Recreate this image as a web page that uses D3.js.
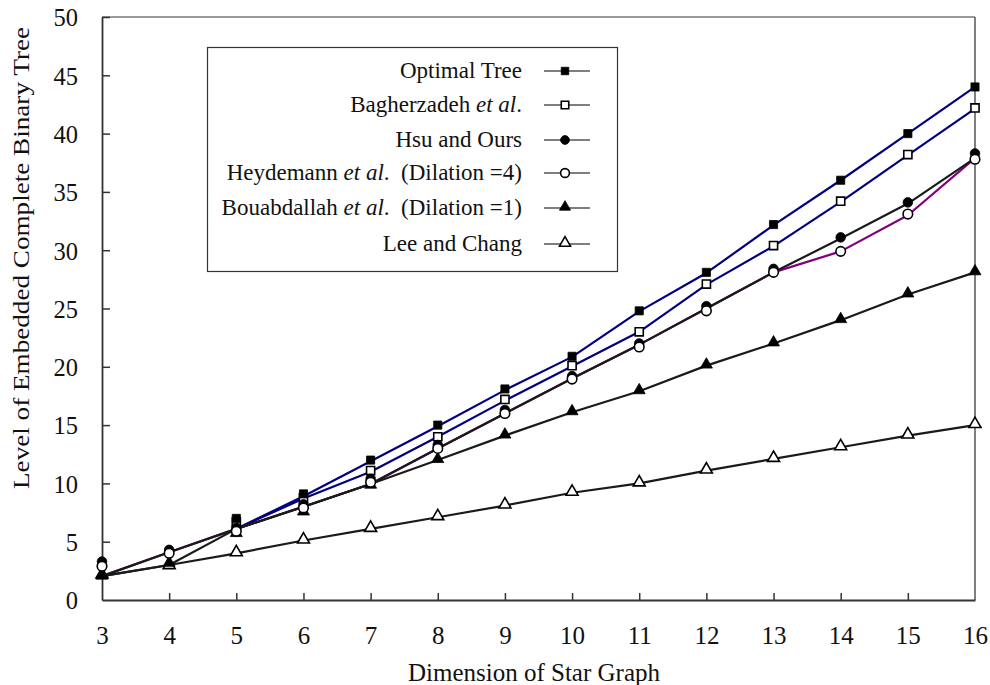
<!DOCTYPE html>
<html>
<head>
<meta charset="utf-8">
<script src="https://cdn.jsdelivr.net/npm/d3@7"></script>
<style>
  html, body { margin: 0; padding: 0; background: #fff; }
  svg { display: block; }
  text { font-family: "Liberation Serif", "Times New Roman", serif; fill: #111; white-space: pre; }
</style>
</head>
<body>
<svg id="chart" width="990" height="685"></svg>
<script>
// ---- data ----
const dims = [3, 4, 5, 6, 7, 8, 9, 10, 11, 12, 13, 14, 15, 16];
const yTicks = [0, 5, 10, 15, 20, 25, 30, 35, 40, 45, 50];

// marker values (as plotted)
const optimalMarks      = [null, null, 7.0, 9.1, 12.0, 15.0, 18.1, 20.9, 24.8, 28.1, 32.2, 36.0, 40.0, 44.0];
const bagherzadehMarks  = [null, null, 6.7, 8.75, 11.1, 14.0, 17.2, 20.1, 23.0, 27.1, 30.4, 34.2, 38.2, 42.2];
const hsuMarks          = [3.3, 4.3, 6.2, 8.2, 10.4, 13.3, 16.3, 19.2, 22.0, 25.2, 28.4, 31.1, 34.1, 38.3];
const heydemannMarks    = [2.9, 4.0, 5.9, 7.9, 10.1, 13.0, 16.0, 18.95, 21.7, 24.8, 28.1, 29.9, 33.1, 37.8];
const bouabdallahMarks  = [2.0, 3.1, 5.65, 7.5, 9.8, 12.0, 14.1, 16.1, 17.9, 20.1, 22.0, 24.0, 26.2, 28.1];
const leeChangMarks     = [2.1, 2.9, 4.0, 5.1, 6.1, 7.1, 8.1, 9.2, 10.0, 11.1, 12.1, 13.1, 14.1, 15.0];

// line vertices (as drawn)
const optimalLine       = [null, null, 6.1, 8.9, 11.9, 14.9, 18.0, 20.85, 24.75, 28.05, 32.15, 36.0, 40.0, 44.0];
const bagherzadehLine   = [null, null, 6.1, 8.7, 11.0, 14.0, 17.1, 20.05, 23.0, 27.05, 30.35, 34.15, 38.15, 42.15];
const hsuLine           = [2.05, 4.1, 6.1, 8.0, 9.95, 13.0, 16.0, 19.0, 21.9, 25.0, 28.1, 31.0, 34.0, 37.9];
const heydemannLine     = [2.05, 4.1, 6.1, 8.0, 9.95, 13.0, 16.0, 19.0, 21.9, 25.0, 28.1, 29.9, 33.0, 37.9];
const bouabdallahLine   = [2.05, 3.0, 6.1, 8.0, 9.95, 12.0, 14.1, 16.1, 17.9, 20.1, 22.0, 24.0, 26.2, 28.1];
const leeChangLine      = [2.05, 3.0, 4.0, 5.1, 6.1, 7.1, 8.1, 9.2, 10.0, 11.1, 12.1, 13.1, 14.1, 15.0];

const seriesNames = [
  "Optimal Tree",
  "Bagherzadeh et al.",
  "Hsu and Ours",
  "Heydemann et al.  (Dilation =4)",
  "Bouabdallah et al.  (Dilation =1)",
  "Lee and Chang"
];

const series = [
  { name: seriesNames[0], marks: optimalMarks,     line: optimalLine,     color: "#000080", marker: "square", fill: true },
  { name: seriesNames[1], marks: bagherzadehMarks, line: bagherzadehLine, color: "#000080", marker: "square", fill: false },
  { name: seriesNames[3], marks: heydemannMarks,   line: heydemannLine,   color: "#800080", marker: "circle", fill: false },
  { name: seriesNames[2], marks: hsuMarks,         line: hsuLine,         color: "#1a1a1a", marker: "circle", fill: true },
  { name: seriesNames[4], marks: bouabdallahMarks, line: bouabdallahLine, color: "#1a1a1a", marker: "triangle", fill: true },
  { name: seriesNames[5], marks: leeChangMarks,    line: leeChangLine,    color: "#1a1a1a", marker: "triangle", fill: false }
];

// ---- layout ----
const svg = d3.select("#chart");
const pL = 102, pR = 975, pT = 17, pB = 600;

const x = d3.scaleLinear().domain([3, 16]).range([pL, pR]);
const y = d3.scaleLinear().domain([0, 50]).range([pB, pT]);

// frame
svg.append("line").attr("x1", pL).attr("x2", pR).attr("y1", pT).attr("y2", pT)
  .attr("stroke", "#777").attr("stroke-width", 1.5);
svg.append("line").attr("x1", pR).attr("x2", pR).attr("y1", pT).attr("y2", pB)
  .attr("stroke", "#555").attr("stroke-width", 1.5);

// axes
const xAxis = d3.axisBottom(x).tickValues(dims).tickFormat(d3.format("d")).tickSizeInner(-7).tickSizeOuter(0).tickPadding(31);
const yAxis = d3.axisLeft(y).tickValues(yTicks).tickSizeInner(-8).tickSizeOuter(0).tickPadding(24);

const gx = svg.append("g").attr("transform", `translate(0,${pB})`).call(xAxis);
const gy = svg.append("g").attr("transform", `translate(${pL},0)`).call(yAxis);
[gx, gy].forEach(g => {
  g.select(".domain").attr("stroke", "#333").attr("stroke-width", 1.8);
  g.selectAll(".tick line").attr("stroke", "#333").attr("stroke-width", 1.5);
  g.selectAll(".tick text").attr("font-family", "Liberation Serif, serif").attr("fill", "#111");
});
gx.selectAll(".tick text").attr("font-size", 25).attr("dy", "0.5em");
gy.selectAll(".tick text").attr("font-size", 24.5).attr("text-anchor", "end").attr("dy", "0.36em");
gy.selectAll(".tick").filter(d => d === 0).select("line").remove();
gx.selectAll(".tick").filter(d => d === 3 || d === 16).select("line").remove();

// axis titles
svg.append("text").attr("x", 534).attr("y", 681).attr("text-anchor", "middle")
  .attr("font-size", 25).text("Dimension of Star Graph");
svg.append("text").attr("transform", `translate(29,258) rotate(-90)`).attr("text-anchor", "middle")
  .attr("font-size", 24).attr("textLength", 462).attr("lengthAdjust", "spacingAndGlyphs")
  .text("Level of Embedded Complete Binary Tree");

// lines
const lineGen = d3.line().defined(d => d.v != null).x(d => x(d.x)).y(d => y(d.v));
const plot = svg.append("g");
series.forEach(s => {
  const pts = dims.map((d, i) => ({ x: d, v: s.line[i] }));
  plot.append("path").datum(pts).attr("d", lineGen)
    .attr("fill", "none").attr("stroke", s.color).attr("stroke-width", 2.2)
    .attr("stroke-linejoin", "round");
});

// markers
const symSize = { square: 66, circle: 72, triangle: 62 };
const symType = { square: d3.symbolSquare, circle: d3.symbolCircle, triangle: d3.symbolTriangle };
function drawMarker(g, s, cx, cy, scale) {
  const sz = symSize[s.marker] * (scale || 1);
  g.append("path")
    .attr("d", d3.symbol().type(symType[s.marker]).size(sz)())
    .attr("transform", `translate(${cx},${cy})`)
    .attr("fill", s.fill ? "#000" : "#fff")
    .attr("stroke", "#000").attr("stroke-width", s.fill ? 0.8 : 1.6);
}
const markerOrder = [series[5], series[4], series[1], series[0], series[3], series[2]];
markerOrder.forEach(s => {
  dims.forEach((d, i) => {
    const v = s.marks[i];
    if (v == null) return;
    const cy = s.marker === "triangle" ? y(v) - 1 : y(v);
    drawMarker(plot, s, x(d), cy);
  });
});

// legend
const lg = svg.append("g");
lg.append("rect").attr("x", 207.5).attr("y", 47.5).attr("width", 410).attr("height", 224)
  .attr("fill", "#fff").attr("stroke", "#333").attr("stroke-width", 1.2);
const legendRows = [
  { s: series[0], label: ["Optimal Tree"] },
  { s: series[1], label: ["Bagherzadeh ", "et al", "."] },
  { s: series[3], label: ["Hsu and Ours"] },
  { s: series[2], label: ["Heydemann ", "et al", ".  (Dilation =4)"] },
  { s: series[4], label: ["Bouabdallah ", "et al", ".  (Dilation =1)"] },
  { s: series[5], label: ["Lee and Chang"] }
];
const rowY = [71, 105, 140, 173, 208, 244];
legendRows.forEach((r, i) => {
  const ty = rowY[i];
  const t = lg.append("text").attr("x", 522).attr("y", ty + 7).attr("text-anchor", "end").attr("font-size", 23);
  r.label.forEach(part => {
    const ts = t.append("tspan").text(part);
    if (part === "et al") ts.attr("font-style", "italic");
  });
  lg.append("line").attr("x1", 544).attr("x2", 590).attr("y1", ty).attr("y2", ty)
    .attr("stroke", "#555").attr("stroke-width", 1.6);
  drawMarker(lg, r.s, 565, r.s.marker === "triangle" ? ty - 1 : ty, 0.85);
});
</script>
</body>
</html>
